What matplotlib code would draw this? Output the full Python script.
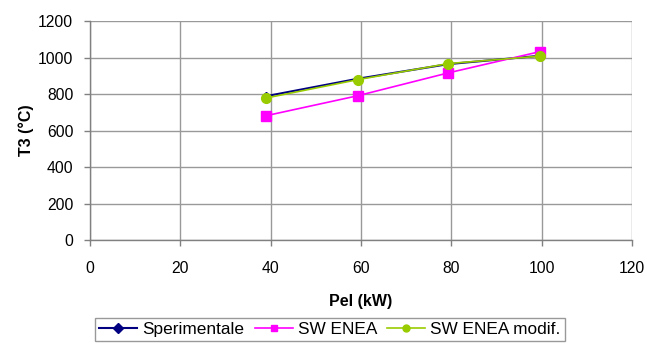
import matplotlib
matplotlib.use("Agg")
import matplotlib.pyplot as plt

pel_kw = [38.9, 59.3, 79.3, 99.7]
t3_sperimentale = [788, 884, 964, 1010]
t3_sw_enea = [681, 791, 916, 1033]
t3_sw_enea_modif = [778, 879, 967, 1008]

x_ticks = [0, 20, 40, 60, 80, 100, 120]
y_ticks = [0, 200, 400, 600, 800, 1000, 1200]

plt.rcParams['font.family'] = ['Liberation Sans', 'DejaVu Sans']

fig = plt.figure(figsize=(6.47, 3.45), dpi=100)
ax = fig.add_axes([0.139, 0.304, 0.838, 0.635])

ax.plot(pel_kw, t3_sperimentale, color='#000080', marker='D', markersize=4,
        linewidth=1.5, label='Sperimentale', zorder=3)
ax.plot(pel_kw, t3_sw_enea, color='#ff00ff', marker='s', markersize=7,
        linewidth=1.2, label='SW ENEA', zorder=4)
ax.plot(pel_kw, t3_sw_enea_modif, color='#99cc00', marker='o', markersize=7,
        linewidth=1.2, label='SW ENEA modif.', zorder=5)

ax.set_xlim(0, 120)
ax.set_ylim(0, 1200)
ax.set_xticks(x_ticks)
ax.set_yticks(y_ticks)
ax.grid(True, color='#999999', linewidth=1.0)
ax.set_axisbelow(True)
ax.tick_params(axis='both', direction='out', length=4, width=1,
               labelsize=11.3, colors='black')
ax.tick_params(axis='both', color='#808080')
ax.tick_params(axis='x', pad=11)
ax.tick_params(axis='y', pad=8)
for side in ['top', 'right']:
    ax.spines[side].set_visible(False)
for side in ['left', 'bottom']:
    ax.spines[side].set_color('#808080')
    ax.spines[side].set_linewidth(1.0)

ax.set_xlabel('Pel (kW)', fontsize=11.5, fontweight='bold', labelpad=13)
ax.set_ylabel('T3 (°C)', fontsize=11.5, fontweight='bold', labelpad=3)

leg = fig.legend(loc='center', bbox_to_anchor=(0.510, 0.045), ncol=3,
                 fontsize=12.4, frameon=True, fancybox=False, handlelength=2.2,
                 handletextpad=0.3, columnspacing=0.6, borderpad=0.25)
leg.get_frame().set_edgecolor('#808080')
leg.get_frame().set_linewidth(1.0)
for h in leg.legend_handles:
    h.set_markersize(5)

fig.savefig('out.png', dpi=100)
